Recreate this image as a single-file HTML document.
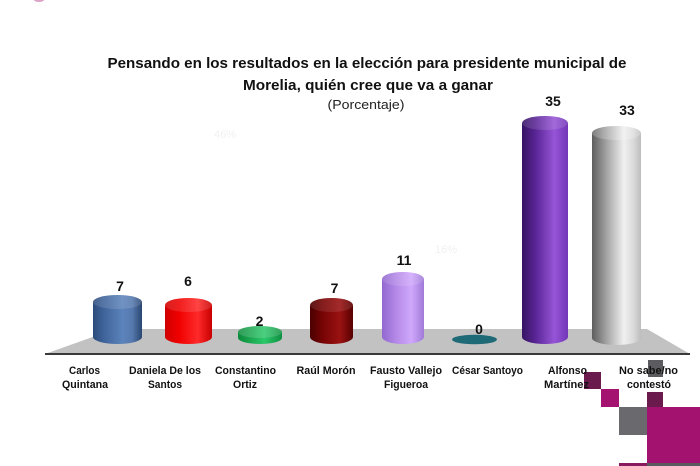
<!DOCTYPE html>
<html>
<head>
<meta charset="utf-8">
<style>
  html, body { margin: 0; padding: 0; background: #ffffff; }
  svg { display: block; }
  text { font-family: "Liberation Sans", Arial, sans-serif; }
</style>
</head>
<body>
<svg width="700" height="466" viewBox="0 0 700 466" xmlns="http://www.w3.org/2000/svg">
  <defs>
    <linearGradient id="gBlue" x1="0" y1="0" x2="1" y2="0">
      <stop offset="0" stop-color="#2c4b7a"/>
      <stop offset="0.2" stop-color="#3d6298"/>
      <stop offset="0.6" stop-color="#5c83bb"/>
      <stop offset="0.8" stop-color="#5579ae"/>
      <stop offset="1" stop-color="#2a4670"/>
    </linearGradient>
    <linearGradient id="gRed" x1="0" y1="0" x2="1" y2="0">
      <stop offset="0" stop-color="#d00000"/>
      <stop offset="0.3" stop-color="#f00000"/>
      <stop offset="0.7" stop-color="#ff2a2a"/>
      <stop offset="1" stop-color="#c80000"/>
    </linearGradient>
    <linearGradient id="gGreen" x1="0" y1="0" x2="1" y2="0">
      <stop offset="0" stop-color="#0b8a3a"/>
      <stop offset="0.6" stop-color="#2cc86a"/>
      <stop offset="1" stop-color="#0e8f40"/>
    </linearGradient>
    <linearGradient id="gDRed" x1="0" y1="0" x2="1" y2="0">
      <stop offset="0" stop-color="#4a0000"/>
      <stop offset="0.3" stop-color="#780404"/>
      <stop offset="0.7" stop-color="#9a1212"/>
      <stop offset="1" stop-color="#580000"/>
    </linearGradient>
    <linearGradient id="gLav" x1="0" y1="0" x2="1" y2="0">
      <stop offset="0" stop-color="#9268d0"/>
      <stop offset="0.35" stop-color="#b58ae8"/>
      <stop offset="0.7" stop-color="#cfa8fb"/>
      <stop offset="1" stop-color="#a07ad8"/>
    </linearGradient>
    <linearGradient id="gPur" x1="0" y1="0" x2="1" y2="0">
      <stop offset="0" stop-color="#361462"/>
      <stop offset="0.3" stop-color="#5a2596"/>
      <stop offset="0.7" stop-color="#9655d6"/>
      <stop offset="1" stop-color="#7236b8"/>
    </linearGradient>
    <linearGradient id="gGray" x1="0" y1="0" x2="1" y2="0">
      <stop offset="0" stop-color="#5e5e5e"/>
      <stop offset="0.3" stop-color="#a4a4a4"/>
      <stop offset="0.65" stop-color="#efefef"/>
      <stop offset="0.85" stop-color="#dadada"/>
      <stop offset="1" stop-color="#bcbcbc"/>
    </linearGradient>
  </defs>

  <!-- faint background artifacts -->
  <ellipse cx="39" cy="0" rx="5" ry="2" fill="#d07ab0" opacity="0.7"/>
  <text x="225" y="138" font-size="11" fill="#f0f0f0" text-anchor="middle">46%</text>
  <text x="446" y="253" font-size="11" fill="#f0f0f0" text-anchor="middle">16%</text>

  <!-- Title -->
  <text x="367" y="68" font-size="15" font-weight="bold" fill="#111" text-anchor="middle" textLength="519" lengthAdjust="spacingAndGlyphs">Pensando en los resultados en la elección para presidente municipal de</text>
  <text x="368" y="90" font-size="15" font-weight="bold" fill="#111" text-anchor="middle" textLength="250" lengthAdjust="spacingAndGlyphs">Morelia, quién cree que va a ganar</text>
  <text x="366" y="109" font-size="13" fill="#222" text-anchor="middle" textLength="77" lengthAdjust="spacingAndGlyphs">(Porcentaje)</text>

  <!-- Floor -->
  <polygon points="45,354 115,329 647,329 690,354" fill="#c2c2c2"/>
  <line x1="45" y1="354" x2="690" y2="354" stroke="#3a3a3a" stroke-width="2"/>

  <!-- Carlos -->
  <path d="M93,302 V337 A24.5,7 0 0 0 142,337 V302 Z" fill="url(#gBlue)"/>
  <ellipse cx="117.5" cy="302" rx="24.5" ry="7" fill="url(#gBlue)"/>
  <ellipse cx="117.5" cy="302" rx="24.5" ry="7" fill="#fff" opacity="0.12"/>
  <!-- Daniela -->
  <path d="M165,305 V337 A23.5,7 0 0 0 212,337 V305 Z" fill="url(#gRed)"/>
  <ellipse cx="188.5" cy="305" rx="23.5" ry="7" fill="url(#gRed)"/>
  <ellipse cx="188.5" cy="305" rx="23.5" ry="7" fill="#fff" opacity="0.12"/>
  <!-- Constantino -->
  <path d="M238,332 V338 A22,6 0 0 0 282,338 V332 Z" fill="url(#gGreen)"/>
  <ellipse cx="260" cy="332" rx="22" ry="6" fill="url(#gGreen)"/>
  <ellipse cx="260" cy="332" rx="22" ry="6" fill="#fff" opacity="0.15"/>
  <!-- Raul -->
  <path d="M310,305 V337 A21.5,7 0 0 0 353,337 V305 Z" fill="url(#gDRed)"/>
  <ellipse cx="331.5" cy="305" rx="21.5" ry="7" fill="url(#gDRed)"/>
  <ellipse cx="331.5" cy="305" rx="21.5" ry="7" fill="#fff" opacity="0.1"/>
  <!-- Fausto -->
  <path d="M382,279 V337 A21,7 0 0 0 424,337 V279 Z" fill="url(#gLav)"/>
  <ellipse cx="403" cy="279" rx="21" ry="7" fill="url(#gLav)"/>
  <ellipse cx="403" cy="279" rx="21" ry="7" fill="#fff" opacity="0.12"/>
  <!-- Cesar -->
  <ellipse cx="474.5" cy="339.5" rx="22.5" ry="4.8" fill="#1f6a77"/>
  <!-- Alfonso -->
  <path d="M522,123 V337 A23,7 0 0 0 568,337 V123 Z" fill="url(#gPur)"/>
  <ellipse cx="545" cy="123" rx="23" ry="7" fill="url(#gPur)"/>
  <ellipse cx="545" cy="123" rx="23" ry="7" fill="#fff" opacity="0.12"/>
  <!-- No sabe -->
  <path d="M592,133 V338 A24.5,7 0 0 0 641,338 V133 Z" fill="url(#gGray)"/>
  <ellipse cx="616.5" cy="133" rx="24.5" ry="7" fill="url(#gGray)"/>
  <ellipse cx="616.5" cy="133" rx="24.5" ry="7" fill="#fff" opacity="0.2"/>

  <!-- Value labels -->
  <g font-size="14" font-weight="bold" fill="#111" text-anchor="middle">
    <text x="120" y="291">7</text>
    <text x="188" y="286">6</text>
    <text x="259.5" y="326">2</text>
    <text x="334.5" y="293">7</text>
    <text x="404" y="265">11</text>
    <text x="479" y="334">0</text>
    <text x="553" y="106">35</text>
    <text x="627" y="115">33</text>
  </g>

  <!-- Decorative squares -->
  <rect x="648" y="360" width="15" height="17" fill="#5c5c60"/>
  <rect x="584" y="372" width="17" height="17" fill="#6a1a4c"/>
  <rect x="601" y="389" width="18" height="18" fill="#a3136f"/>
  <rect x="647" y="392" width="16" height="15" fill="#6a1a4c"/>
  <rect x="619" y="407" width="28" height="28" fill="#6a6a6e"/>
  <rect x="647" y="407" width="53" height="56" fill="#a3126f"/>
  <rect x="619" y="463" width="28" height="3" fill="#8a1a60"/>
  <rect x="647" y="463" width="53" height="3" fill="#5a5a5e"/>

  <!-- Category labels -->
  <g font-size="11" font-weight="bold" fill="#111" text-anchor="middle">
    <text x="84.5" y="374" textLength="31" lengthAdjust="spacingAndGlyphs">Carlos</text>
    <text x="85" y="388" textLength="46" lengthAdjust="spacingAndGlyphs">Quintana</text>
    <text x="165" y="374" textLength="72" lengthAdjust="spacingAndGlyphs">Daniela De los</text>
    <text x="165" y="388" textLength="34" lengthAdjust="spacingAndGlyphs">Santos</text>
    <text x="245.5" y="374" textLength="61" lengthAdjust="spacingAndGlyphs">Constantino</text>
    <text x="245" y="388" textLength="24" lengthAdjust="spacingAndGlyphs">Ortiz</text>
    <text x="326" y="374" textLength="59" lengthAdjust="spacingAndGlyphs">Raúl Morón</text>
    <text x="406" y="374" textLength="72" lengthAdjust="spacingAndGlyphs">Fausto Vallejo</text>
    <text x="406" y="388" textLength="44" lengthAdjust="spacingAndGlyphs">Figueroa</text>
    <text x="487.5" y="374" textLength="71" lengthAdjust="spacingAndGlyphs">César Santoyo</text>
    <text x="567.5" y="374" textLength="39" lengthAdjust="spacingAndGlyphs">Alfonso</text>
    <text x="566.5" y="388" textLength="45" lengthAdjust="spacingAndGlyphs">Martínez</text>
    <text x="648.5" y="374" textLength="59" lengthAdjust="spacingAndGlyphs">No sabe/no</text>
    <text x="649" y="388" textLength="44" lengthAdjust="spacingAndGlyphs">contestó</text>
  </g>
</svg>
</body>
</html>
